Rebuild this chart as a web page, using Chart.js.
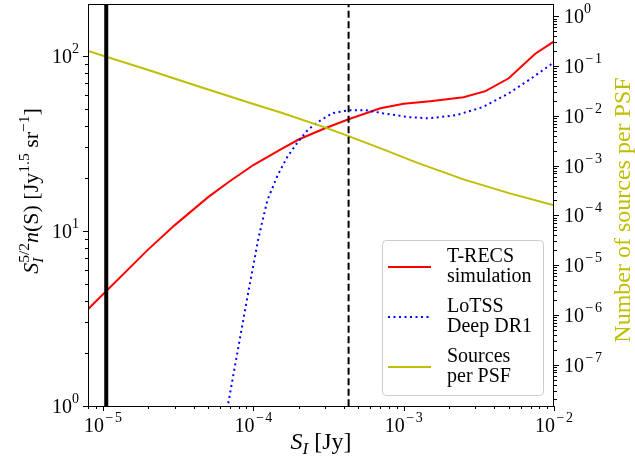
<!DOCTYPE html>
<html>
<head>
<meta charset="utf-8">
<script src="https://cdn.jsdelivr.net/npm/chart.js@4.4.1/dist/chart.umd.min.js"></script>
<style>
  html, body { margin: 0; padding: 0; background: #fff; }
  #wrap { width: 635px; height: 470px; }
</style>
</head>
<body>
<div id="wrap"><canvas id="chart" width="635" height="470"></canvas></div>
<script>
const SERIF = '"Liberation Serif", "DejaVu Serif", serif';

// T-RECS simulation: S^(5/2) n(S)
const fluxTrecs   = [7.94e-6, 1e-5, 2e-5, 3e-5, 5e-5, 7e-5, 1e-4, 1.5e-4, 2e-4, 3e-4, 4.3e-4, 7e-4, 1e-3, 1.5e-3, 2.5e-3, 3.5e-3, 5e-3, 7.5e-3, 1e-2];
const countsTrecs = [3.57, 4.35, 7.85, 10.8, 15.6, 19.3, 23.8, 29.1, 33.3, 38.6, 43.5, 50.2, 53.3, 55.1, 58.0, 62.9, 74.5, 103, 121];

// LoTSS Deep DR1
const fluxLotss   = [6.41e-5, 6.81e-5, 9.12e-5, 1.08e-4, 1.24e-4, 1.45e-4, 1.69e-4, 1.97e-4, 2.29e-4, 2.67e-4, 3.36e-4, 4.3e-4, 5.58e-4, 7.24e-4, 1.08e-3, 1.47e-3, 2.22e-3, 3.36e-3, 5.01e-3, 7.24e-3, 1e-2];
const countsLotss = [0.78, 1.04, 4.18, 9.08, 15.0, 20.8, 26.7, 32.1, 37.6, 41.8, 47.1, 49.0, 49.0, 47.1, 44.7, 44.0, 45.8, 51.0, 61.2, 75.5, 92];

// sources per PSF (right axis)
const fluxPsf       = [7.94e-6, 2e-5, 4.44e-5, 1e-4, 1.52e-4, 3.02e-4, 4.3e-4, 7.24e-4, 1.2e-3, 2.47e-3, 5.01e-3, 1e-2];
const sourcesPerPsf = [0.202, 0.0839, 0.0381, 0.01735, 0.0117, 0.00584, 0.00394, 0.00216, 0.00118, 5.37e-4, 2.81e-4, 1.61e-4];

// vertical markers
const thickLineFlux  = 1.05e-5;
const dashedLineFlux = 4.3e-4;

// tick decades
const xDecades     = [-5, -4, -3, -2];
const leftDecades  = [0, 1, 2];
const rightDecades = [0, -1, -2, -3, -4, -5, -6, -7];

const legendItems = [
  { lines: ['T-RECS', 'simulation'], color: '#ff0000', dash: [] },
  { lines: ['LoTSS', 'Deep DR1'], color: '#0000ff', dash: [2, 3.5] },
  { lines: ['Sources', 'per PSF'], color: '#bfbf00', dash: [] }
];

const pts = (xs, ys) => xs.map((x, i) => ({ x: x, y: ys[i] }));

function richWidth(ctx, segs) {
  let w = 0;
  segs.forEach(s => {
    ctx.font = s.f;
    if (s.adv !== false) w += ctx.measureText(s.t).width + (s.sp || 0);
  });
  return w;
}
function drawRich(ctx, segs, x, y) {
  let cx = x;
  segs.forEach(s => {
    ctx.font = s.f;
    ctx.fillText(s.t, cx + (s.sp || 0) / 2, y + (s.dy || 0));
    if (s.adv !== false) cx += ctx.measureText(s.t).width + (s.sp || 0);
  });
}
function powSegs(e) {
  const segs = [{ t: '10', f: '20px ' + SERIF }];
  if (e < 0) segs.push({ t: '\u2212', f: '14px ' + SERIF, dy: -10, sp: 3 });
  segs.push({ t: String(Math.abs(e)), f: '14px ' + SERIF, dy: -10 });
  return segs;
}
function logTicks(min, max) {
  const out = [];
  for (let e = Math.floor(Math.log10(min)); e <= Math.ceil(Math.log10(max)); e++) {
    for (let m = 1; m < 10; m++) {
      const v = m * Math.pow(10, e);
      if (v >= min * 0.999 && v <= max * 1.001) out.push({ v: v, major: m === 1 });
    }
  }
  return out;
}

const axesPlugin = {
  id: 'mplAxes',
  afterDraw(chart) {
    const ctx = chart.ctx;
    const a = chart.chartArea;
    const sx = chart.scales.x, sy = chart.scales.y, sy2 = chart.scales.y2;
    ctx.save();
    ctx.strokeStyle = '#000';
    ctx.fillStyle = '#000';

    // spines
    ctx.lineWidth = 1;
    ctx.strokeRect(Math.round(a.left) + 0.5, Math.round(a.top) + 0.5,
      Math.round(a.right) - Math.round(a.left) - 1, Math.round(a.bottom) - Math.round(a.top));

    // ticks
    ctx.beginPath();
    logTicks(sx.min, sx.max).forEach(t => {
      const px = Math.round(sx.getPixelForValue(t.v)) + 0.5;
      ctx.moveTo(px, a.bottom);
      ctx.lineTo(px, a.bottom + (t.major ? 5 : 3));
    });
    logTicks(sy.min, sy.max).forEach(t => {
      const py = Math.round(sy.getPixelForValue(t.v)) + 0.5;
      ctx.moveTo(a.left, py);
      ctx.lineTo(a.left - (t.major ? 5 : 3), py);
    });
    logTicks(sy2.min, sy2.max).forEach(t => {
      const py = Math.round(sy2.getPixelForValue(t.v)) + 0.5;
      ctx.moveTo(a.right, py);
      ctx.lineTo(a.right + (t.major ? 5 : 3), py);
    });
    ctx.stroke();

    // tick labels
    ctx.textBaseline = 'alphabetic';
    ctx.textAlign = 'left';
    xDecades.forEach(e => {
      const segs = powSegs(e);
      const w = richWidth(ctx, segs);
      drawRich(ctx, segs, sx.getPixelForValue(Math.pow(10, e)) - w / 2, 432);
    });
    leftDecades.forEach(e => {
      const segs = powSegs(e);
      const w = richWidth(ctx, segs);
      drawRich(ctx, segs, 79 - w, sy.getPixelForValue(Math.pow(10, e)) + 7);
    });
    rightDecades.forEach(e => {
      drawRich(ctx, powSegs(e), a.right + 10, sy2.getPixelForValue(Math.pow(10, e)) + 7);
    });

    // x label
    const big = '24px ' + SERIF, bigI = 'italic 24px ' + SERIF;
    const smI = 'italic 17px ' + SERIF;
    const xl = [{ t: 'S', f: bigI }, { t: 'I', f: smI, dy: 5 }, { t: ' [Jy]', f: big }];
    drawRich(ctx, xl, (a.left + a.right) / 2 - richWidth(ctx, xl) / 2, 449);

    // left y label
    const yb = '22px ' + SERIF, ybI = 'italic 22px ' + SERIF;
    const ys = '15.5px ' + SERIF, ysI = 'italic 15.5px ' + SERIF;
    const yl = [
      { t: 'S', f: ybI }, { t: 'I', f: ysI, dy: 5, adv: false }, { t: '5/2', f: ys, dy: -9 },
      { t: 'n', f: ybI }, { t: '(S)', f: yb },
      { t: ' [Jy', f: yb }, { t: '1.5', f: ys, dy: -9 },
      { t: ' sr', f: yb }, { t: '\u22121', f: ys, dy: -9 }, { t: ']', f: yb }
    ];
    ctx.save();
    ctx.translate(38, 191);
    ctx.rotate(-Math.PI / 2);
    drawRich(ctx, yl, -richWidth(ctx, yl) / 2, 0);
    ctx.restore();

    // right y label
    ctx.save();
    ctx.translate(630, 210);
    ctx.rotate(-Math.PI / 2);
    ctx.font = big;
    ctx.fillStyle = '#bfbf00';
    ctx.textAlign = 'center';
    ctx.fillText('Number of sources per PSF', 0, 0);
    ctx.restore();

    // legend
    const bx = 382, by = 240, bw = 161, bh = 155;
    ctx.beginPath();
    ctx.roundRect(bx + 0.5, by + 0.5, bw, bh, 4);
    ctx.fillStyle = 'rgba(255,255,255,0.85)';
    ctx.fill();
    ctx.strokeStyle = '#cccccc';
    ctx.lineWidth = 1;
    ctx.stroke();
    legendItems.forEach((item, i) => {
      const ly = 267 + i * 50;
      ctx.beginPath();
      ctx.setLineDash(item.dash);
      ctx.strokeStyle = item.color;
      ctx.lineWidth = 2;
      ctx.moveTo(388, ly);
      ctx.lineTo(431, ly);
      ctx.stroke();
      ctx.setLineDash([]);
      ctx.fillStyle = '#000';
      ctx.font = '20px ' + SERIF;
      ctx.textAlign = 'left';
      ctx.fillText(item.lines[0], 447, ly - 5);
      ctx.fillText(item.lines[1], 447, ly + 15);
    });
    ctx.restore();
  }
};

new Chart(document.getElementById('chart'), {
  type: 'line',
  data: {
    datasets: [
      {
        data: [{ x: thickLineFlux, y: 0.5 }, { x: thickLineFlux, y: 1000 }],
        borderColor: '#000', borderWidth: 4, yAxisID: 'y'
      },
      {
        data: [{ x: dashedLineFlux, y: 0.5 }, { x: dashedLineFlux, y: 1000 }],
        borderColor: '#000', borderWidth: 2, borderDash: [7, 3.5], yAxisID: 'y'
      },
      {
        label: 'Sources per PSF', data: pts(fluxPsf, sourcesPerPsf),
        borderColor: '#bfbf00', borderWidth: 2, yAxisID: 'y2'
      },
      {
        label: 'LoTSS Deep DR1', data: pts(fluxLotss, countsLotss),
        borderColor: '#0000ff', borderWidth: 2, borderDash: [2, 3.5], yAxisID: 'y'
      },
      {
        label: 'T-RECS simulation', data: pts(fluxTrecs, countsTrecs),
        borderColor: '#ff0000', borderWidth: 2, yAxisID: 'y'
      }
    ]
  },
  options: {
    responsive: false,
    animation: false,
    devicePixelRatio: 1,
    layout: { padding: { top: 4, left: 0, right: 0, bottom: 0 } },
    elements: {
      point: { radius: 0, hoverRadius: 0 },
      line: { tension: 0, fill: false }
    },
    datasets: { line: { clip: 0 } },
    plugins: { legend: { display: false }, tooltip: { enabled: false } },
    scales: {
      x: {
        type: 'logarithmic', position: 'bottom', min: 7.94e-6, max: 1e-2,
        grid: { display: false }, border: { display: false }, ticks: { display: false },
        afterFit: s => { s.height = 64; }
      },
      y: {
        type: 'logarithmic', position: 'left', min: 1, max: 198,
        grid: { display: false }, border: { display: false }, ticks: { display: false },
        afterFit: s => { s.width = 88; }
      },
      y2: {
        type: 'logarithmic', position: 'right', min: 1.48e-8, max: 1.78,
        grid: { display: false }, border: { display: false }, ticks: { display: false },
        afterFit: s => { s.width = 81; }
      }
    }
  },
  plugins: [axesPlugin]
});
</script>
</body>
</html>
